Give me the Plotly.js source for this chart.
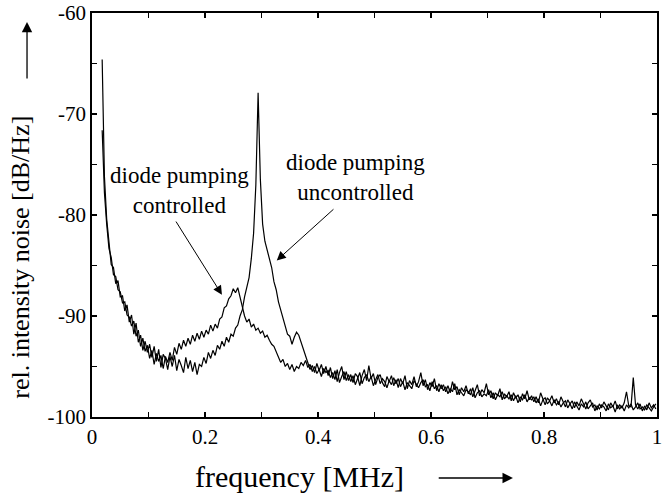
<!DOCTYPE html>
<html>
<head>
<meta charset="utf-8">
<script src="https://cdn.plot.ly/plotly-3.0.1.min.js"></script>
<style>html,body{margin:0;padding:0;background:#fff;}#chart{width:671px;height:498px;}</style>
</head>
<body>
<div id="chart"></div>
<script>
// Frequency grid: start and step in MHz (x computed by Plotly from x0/dx)
var freqStart = 0.018;
var freqStep = 0.004;

// Diode pumping uncontrolled [dB/Hz]
var uncontrolled = [
  -64.6, -76.2, -80.4, -82.6, -84.9, -85.2, -86.8, -86.5, -88.1, -88.0,
  -89.5, -88.9, -90.6, -89.9, -91.8, -90.7, -92.6, -91.9, -93.4, -92.5,
  -93.6, -92.8, -94.1, -93.0, -94.5, -93.3, -95.1, -93.8, -94.2, -95.3,
  -94.0, -95.0, -93.9, -95.4, -94.3, -94.9, -95.6, -94.1, -95.2, -94.4,
  -95.5, -94.6, -95.8, -94.8, -95.0, -94.1, -94.7, -93.6, -94.2, -93.4,
  -93.9, -92.9, -93.3, -92.5, -93.0, -92.1, -92.6, -91.8, -92.0, -91.2,
  -90.9, -90.0, -89.4, -88.1, -87.0, -86.2, -84.3, -81.8, -77.0, -67.9,
  -76.5, -80.9, -82.6, -83.4, -84.4, -85.2, -86.6, -87.4, -88.6, -89.4,
  -90.4, -91.0, -91.8, -92.0, -92.8, -92.1, -91.6, -91.9, -92.6, -93.2,
  -94.0, -94.6, -95.3, -94.9, -95.6, -94.7, -95.4, -94.8, -95.7, -95.0,
  -95.9, -95.1, -96.2, -95.4, -96.5, -95.6, -95.0, -96.3, -95.5, -96.4,
  -95.8, -96.6, -95.7, -96.0, -96.9, -95.9, -95.3, -96.4, -94.9, -96.2,
  -95.7, -96.8, -96.1, -95.8, -96.6, -97.0, -96.0, -96.5, -95.9, -96.9,
  -96.3, -97.1, -96.2, -96.7, -95.9, -97.2, -96.4, -96.8, -96.0, -97.0,
  -96.5, -95.6, -96.9, -96.3, -97.3, -96.6, -97.0, -96.2, -97.4, -96.7,
  -97.2, -96.8, -97.5, -96.9, -97.6, -96.5, -97.3, -97.0, -97.8, -97.1,
  -97.5, -96.9, -97.7, -97.2, -98.0, -97.4, -96.8, -97.9, -97.3, -97.6,
  -96.7, -97.8, -97.4, -98.2, -97.6, -97.9, -97.2, -98.3, -97.7, -98.0,
  -97.5, -98.4, -97.6, -98.1, -97.8, -98.5, -97.7, -98.2, -97.4, -98.3,
  -97.9, -98.5, -98.0, -98.6, -97.6, -98.2, -98.8, -98.1, -98.4, -97.9,
  -98.6, -98.2, -98.8, -98.0, -98.5, -99.0, -98.3, -98.7, -98.4, -99.1,
  -98.5, -98.9, -98.2, -98.7, -99.2, -98.6, -98.3, -99.0, -98.8, -99.3,
  -98.7, -99.1, -98.5, -98.9, -99.3, -98.6, -99.0, -98.4, -99.2, -98.8,
  -99.1, -98.6, -97.5, -98.9, -99.0, -96.1, -98.8, -99.2, -98.7, -99.4,
  -98.9, -99.3, -98.6, -99.1, -98.8, -99.2
];

// Diode pumping controlled [dB/Hz]
var controlled = [
  -71.6, -77.8, -80.9, -83.3, -84.2, -85.9, -86.1, -87.4, -87.6, -88.7,
  -88.6, -89.9, -90.1, -91.0, -90.5, -92.0, -91.4, -93.0, -92.2, -93.5,
  -92.9, -94.2, -93.4, -94.8, -93.7, -94.5, -93.9, -95.2, -94.0, -94.6,
  -93.6, -94.4, -93.1, -93.8, -92.7, -93.3, -92.4, -93.0, -92.2, -92.8,
  -91.9, -92.5, -91.7, -92.3, -91.5, -92.1, -91.4, -91.8, -90.9, -91.5,
  -90.8, -91.2, -90.3, -90.1, -89.2, -89.0, -88.3, -88.0, -87.3, -87.7,
  -87.2, -88.1, -89.2, -90.0, -90.6, -90.3, -91.1, -90.8, -91.4, -91.2,
  -91.7, -91.5, -92.1, -91.9, -92.4, -92.8, -93.0, -93.6, -94.1, -94.6,
  -94.3, -95.0, -94.7, -95.3, -94.8, -95.5, -95.0, -95.2, -94.6, -94.9,
  -94.4, -95.1, -94.8, -95.5, -95.0, -95.7, -95.3, -96.0, -95.2, -95.6,
  -95.4, -96.1, -95.6, -96.3, -95.3, -96.6, -96.0, -95.5, -96.4, -95.8,
  -96.5, -95.9, -96.8, -96.2, -95.6, -96.7, -96.1, -95.8, -96.5, -96.0,
  -96.9, -96.3, -95.8, -96.7, -96.2, -96.5, -97.1, -96.4, -96.8, -96.1,
  -96.7, -96.2, -97.0, -96.5, -97.3, -96.6, -96.9, -97.2, -96.4, -96.8,
  -97.1, -96.6, -96.3, -97.0, -96.8, -97.4, -96.5, -97.2, -96.9, -97.5,
  -96.8, -97.4, -97.0, -97.7, -97.2, -97.5, -96.7, -97.8, -97.3, -97.6,
  -97.9, -97.3, -97.5, -97.8, -97.1, -98.1, -97.6, -97.4, -98.0, -97.7,
  -97.9, -97.3, -98.1, -97.6, -98.3, -97.8, -98.0, -97.5, -98.2, -97.9,
  -98.2, -97.8, -98.4, -97.9, -98.6, -98.0, -98.3, -97.8, -98.5, -98.1,
  -98.3, -98.0, -98.6, -98.2, -98.9, -98.3, -98.1, -98.7, -98.4, -98.9,
  -98.3, -98.8, -98.5, -99.0, -98.6, -98.4, -99.1, -98.7, -99.2, -98.5,
  -98.9, -99.3, -98.7, -99.0, -98.5, -99.2, -98.9, -98.6, -99.4, -98.9,
  -99.2, -98.8, -99.0, -99.4, -98.7, -99.1, -98.9, -99.5, -98.8, -99.2,
  -98.9, -99.4, -98.8, -99.1, -98.7, -99.3, -99.0, -98.6, -99.2, -99.0,
  -99.3, -98.8, -99.1, -99.4, -99.0, -98.7
];

var xTickVals = [0, 0.2, 0.4, 0.6, 0.8, 1];
var xTickText = ["0", "0.2", "0.4", "0.6", "0.8", "1"];
var yTickVals = [-100, -90, -80, -70, -60];
var yTickText = ["-100", "-90", "-80", "-70", "-60"];

var labelControlled = "diode pumping<br>controlled";
var labelUncontrolled = "diode pumping<br>uncontrolled";
var xTitle = "frequency [MHz]";
var yTitle = "rel. intensity noise [dB/Hz]";

var serif = "Liberation Serif, Times New Roman, serif";
// trailing non-breaking spaces (kept by a zero-width space) shift a centred title
var pad = function (n) { return Array(n + 1).join("\u00a0") + "\u200b"; };

var traces = [
  {type: "scatter", mode: "lines", name: "uncontrolled", x0: freqStart, dx: freqStep, y: uncontrolled,
   line: {color: "#000", width: 1.2}},
  {type: "scatter", mode: "lines", name: "controlled", x0: freqStart, dx: freqStep, y: controlled,
   line: {color: "#000", width: 1.2}}
];

var layout = {
  width: 671, height: 498,
  margin: {l: 92, r: 14, t: 13, b: 81},
  paper_bgcolor: "#fff", plot_bgcolor: "#fff",
  showlegend: false,
  font: {family: serif, color: "#000", size: 21},
  xaxis: {
    range: [0, 1], tickvals: xTickVals, ticktext: xTickText,
    ticks: "inside", ticklen: 5, tickwidth: 1.2, tickcolor: "#000",
    minor: {dtick: 0.1, ticks: "inside", ticklen: 5, tickwidth: 1.2, tickcolor: "#000"},
    showline: true, linecolor: "#000", linewidth: 1.8, mirror: "allticks",
    showgrid: false, zeroline: false,
    tickfont: {family: serif, size: 21, color: "#000"},
    title: {text: xTitle + pad(20), font: {family: serif, size: 30, color: "#000"}, standoff: 18}
  },
  yaxis: {
    range: [-100, -60], tickvals: yTickVals, ticktext: yTickText,
    ticks: "inside", ticklen: 5, tickwidth: 1.2, tickcolor: "#000",
    minor: {dtick: 5, ticks: "inside", ticklen: 5, tickwidth: 1.2, tickcolor: "#000"},
    showline: true, linecolor: "#000", linewidth: 1.8, mirror: "allticks",
    showgrid: false, zeroline: false,
    tickfont: {family: serif, size: 21, color: "#000"},
    title: {text: yTitle + pad(13), font: {family: serif, size: 26, color: "#000"}, standoff: 10}
  },
  annotations: [
    {x: 0.154, y: -77.6, xref: "x", yref: "y", text: labelControlled, showarrow: false,
     font: {family: serif, size: 23, color: "#000"}},
    {x: 0.467, y: -76.3, xref: "x", yref: "y", text: labelUncontrolled, showarrow: false,
     font: {family: serif, size: 23, color: "#000"}},
    {x: 0.230, y: -87.9, ax: 0.147, ay: -80.5, xref: "x", yref: "y", axref: "x", ayref: "y",
     text: "", showarrow: true, arrowhead: 2, arrowsize: 1.8, arrowwidth: 1, arrowcolor: "#000"},
    {x: 0.327, y: -84.5, ax: 0.430, ay: -79.3, xref: "x", yref: "y", axref: "x", ayref: "y",
     text: "", showarrow: true, arrowhead: 2, arrowsize: 1.8, arrowwidth: 1, arrowcolor: "#000"},
    {x: -0.115, y: 0.978, ax: -0.115, ay: 0.834, xref: "paper", yref: "paper", axref: "paper", ayref: "paper",
     text: "", showarrow: true, arrowhead: 2, arrowsize: 1.6, arrowwidth: 1.3, arrowcolor: "#000"},
    {x: 0.745, y: -0.151, ax: 0.611, ay: -0.151, xref: "paper", yref: "paper", axref: "paper", ayref: "paper",
     text: "", showarrow: true, arrowhead: 2, arrowsize: 1.6, arrowwidth: 1.3, arrowcolor: "#000"}
  ]
};

Plotly.newPlot("chart", traces, layout, {displayModeBar: false, staticPlot: true});
</script>
</body>
</html>
